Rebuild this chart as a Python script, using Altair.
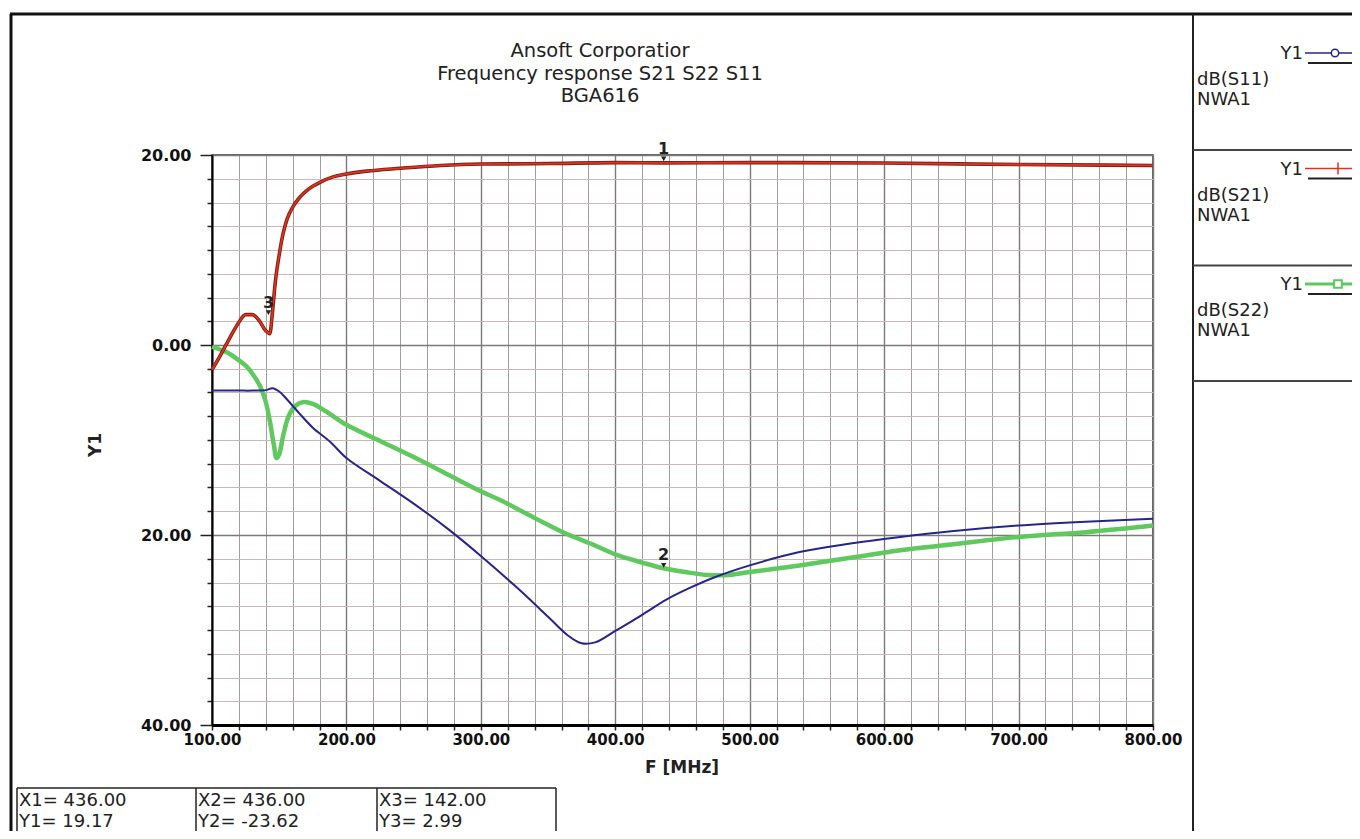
import altair as alt
import pandas as pd

# ---------------- data ----------------
s21_f = [100, 105, 110, 115, 120, 125, 130, 135, 140, 143, 145, 147, 150, 153, 156, 160, 165, 170, 175, 180,
         190, 200, 215, 240, 270, 300, 350, 400, 436, 500, 600, 700, 800]
s21_db = [-2.6, -1.4, -0.1, 1.2, 2.4, 3.2, 3.2, 2.6, 1.5, 1.2, 3.5, 6.5, 9.5, 11.8, 13.3, 14.5, 15.5, 16.2, 16.7, 17.1,
          17.7, 18.0, 18.3, 18.6, 18.9, 19.05, 19.1, 19.2, 19.17, 19.2, 19.15, 19.0, 18.9]

s11_f = [100, 110, 120, 130, 140, 145, 150, 155, 160, 165, 175, 188, 200, 225, 250, 275, 300, 325, 350, 365,
         375, 385, 400, 420, 438, 455, 473, 500, 537, 575, 612, 650, 700, 750, 800]
s11_db = [-4.8, -4.8, -4.8, -4.8, -4.75, -4.55, -4.9, -5.6, -6.4, -7.2, -8.7, -10.2, -11.9, -14.3, -16.7, -19.3, -22.2, -25.3, -28.6, -30.6,
          -31.4, -31.3, -30.1, -28.4, -26.8, -25.6, -24.5, -23.2, -21.8, -20.9, -20.2, -19.6, -19.0, -18.6, -18.3]

s22_f = [100, 110, 118, 126, 131, 136, 140, 143, 146, 148, 150, 153, 157, 162, 168, 175, 185, 200, 225, 250,
         275, 300, 314, 340, 364, 385, 401, 420, 436, 452, 468, 485, 500, 537, 575, 612, 650, 701, 750, 800]
s22_db = [-0.2, -0.7, -1.4, -2.3, -3.2, -4.4, -6.0, -8.0, -10.5, -11.9, -11.5, -9.5, -7.5, -6.4, -6.0, -6.2, -7.0, -8.4, -10.1, -11.8,
          -13.6, -15.4, -16.3, -18.2, -19.9, -21.1, -22.1, -22.9, -23.5, -23.9, -24.2, -24.2, -23.9, -23.2, -22.4, -21.6, -21.0, -20.2, -19.7, -19.0]

marker_f = [436, 436, 142]
marker_db = [19.17, -23.62, 2.99]
marker_label = ["1", "2", "3"]

x_ticks = list(range(100, 801, 20))
y_ticks = [-40 + 2.5 * i for i in range(25)]

title_lines = ["Ansoft Corporatior", "Frequency response S21 S22 S11", "BGA616"]
legend_names = ["dB(S11)", "dB(S21)", "dB(S22)"]
legend_source = "NWA1"
legend_axis = "Y1"

# ---------------- styles ----------------
RED_DARK = "#7a1f14"
RED = "#e0321e"
NAVY = "#26268a"
GREEN = "#5fc95f"
FONT = "DejaVu Sans"

W, H = 941, 570

df21 = pd.DataFrame({"f": s21_f, "db": s21_db})
df11 = pd.DataFrame({"f": s11_f, "db": s11_db})
df22 = pd.DataFrame({"f": s22_f, "db": s22_db})
dfm = pd.DataFrame({"f": marker_f, "db": marker_db, "label": marker_label})
dummy = alt.Data(values=[{"a": 1}])

xaxis = alt.Axis(
    values=x_ticks,
    labelExpr="datum.value % 100 === 0 ? format(datum.value, '.2f') : ''",
    labelFont=FONT, labelFontWeight="bold", labelFontSize=15, labelColor="#111",
    labelPadding=2, labelOverlap=False, labelFlush=False,
    tickSize=5, tickColor="#222", tickWidth=1.5,
    domainColor="#000", domainWidth=3,
    grid=True,
    gridColor={"condition": {"test": "datum.value % 100 === 0", "value": "#7a7a7a"}, "value": "#a69c9c"},
    gridWidth={"condition": {"test": "datum.value % 100 === 0", "value": 1.4}, "value": 1},
    title=None,
)
yaxis = alt.Axis(
    values=y_ticks,
    labelExpr="datum.value % 20 === 0 ? format(abs(datum.value), '.2f') : ''",
    labelFont=FONT, labelFontWeight="bold", labelFontSize=16, labelColor="#111",
    labelPadding=9, labelOverlap=False, labelFlush=False,
    tickSize={"condition": {"test": "datum.value % 20 === 0", "value": 12}, "value": 5},
    tickColor="#222", tickWidth=1.5,
    domainColor="#000", domainWidth=2,
    grid=True,
    gridColor={"condition": {"test": "datum.value % 20 === 0", "value": "#7a7a7a"}, "value": "#c8b8b8"},
    gridWidth={"condition": {"test": "datum.value % 20 === 0", "value": 1.4}, "value": 1},
    title=None,
)
xs = alt.Scale(domain=[100, 800], nice=False, zero=False)
ys = alt.Scale(domain=[-40, 20], nice=False, zero=False)


def enc(ch):
    return ch.encode(x=alt.X("f:Q", scale=xs, axis=xaxis), y=alt.Y("db:Q", scale=ys, axis=yaxis))


layers = []
layers.append(enc(alt.Chart(df22).mark_line(color=GREEN, strokeWidth=4.5, interpolate="catmull-rom")))
layers.append(enc(alt.Chart(df11).mark_line(color=NAVY, strokeWidth=2, interpolate="catmull-rom")))
layers.append(enc(alt.Chart(df21).mark_line(color=RED_DARK, strokeWidth=3.6, interpolate="monotone")))
layers.append(enc(alt.Chart(df21).mark_line(color=RED, strokeWidth=1.8, interpolate="monotone")))

# markers
layers.append(enc(alt.Chart(dfm).mark_point(shape="triangle-down", size=28, filled=True, color="#222",
                                            opacity=1, yOffset=-4)))
layers.append(enc(alt.Chart(dfm).mark_text(font=FONT, fontSize=16, fontWeight="bold",
                                           color="#222", baseline="alphabetic", yOffset=-9)).encode(text="label:N"))


def rule(x1, x2, y1, y2, color="#111", width=2.0):
    return alt.Chart(dummy).mark_rule(color=color, strokeWidth=width).encode(
        x=alt.value(x1), x2=alt.value(x2), y=alt.value(y1), y2=alt.value(y2))


def text(t, x, y, size=18, weight="normal", align="left", baseline="alphabetic", angle=0, font=FONT, color="#222"):
    kw = dict(text=t, font=font, fontSize=size, fontWeight=weight, align=align, baseline=baseline, color=color)
    if angle:
        kw["angle"] = angle
    return alt.Chart(dummy).mark_text(**kw).encode(x=alt.value(x), y=alt.value(y))


# title
for t, yy in zip(title_lines, [-98, -75, -53]):
    layers.append(text(t, 388, yy, size=19.5, align="center"))

# axis titles
layers.append(text("Y1", -116, 290, size=17, weight="bold", align="center", baseline="middle", angle=270))
layers.append(text("F [MHz]", 470, 613, size=17, weight="bold", align="center", baseline="middle"))

# outer frame
layers.append(rule(-202, 1140, -141, -141, "#111", 3))
layers.append(rule(-201, -201, -141, 676, "#111", 3))
layers.append(rule(981, 981, -141, 676, "#222", 2))

# legend panel
sym_colors = [NAVY, RED, GREEN]
sym_widths = [1.5, 1.5, 3]
for i, name in enumerate(legend_names):
    r = i * 115.5
    layers.append(rule(981, 1140, -5 + r, -5 + r, "#444", 2))
    layers.append(text(legend_axis, 1091, -96 + r, size=18, align="right"))
    layers.append(text(name, 985, -70 + r, size=18))
    layers.append(text(legend_source, 985, -50 + r, size=18))
    layers.append(rule(1093, 1140, -102 + r, -102 + r, sym_colors[i], sym_widths[i]))
    layers.append(rule(1096, 1140, -92 + r, -92 + r, "#222", 2))
    if i == 0:
        layers.append(alt.Chart(dummy).mark_point(shape="circle", filled=True, fill="white", stroke=NAVY,
                                                  strokeWidth=1.5, size=55, opacity=1).encode(
            x=alt.value(1123), y=alt.value(-102 + r)))
    elif i == 1:
        layers.append(rule(1126, 1126, -108 + r, -96 + r, RED, 1.5))
    else:
        layers.append(alt.Chart(dummy).mark_point(shape="square", filled=True, fill="white", stroke=GREEN,
                                                  strokeWidth=2, size=60, opacity=1).encode(
            x=alt.value(1126), y=alt.value(-102 + r)))

# marker table
layers.append(rule(-195, 344, 633, 633, "#222", 1.5))
for xx in [-195, -16, 165, 344]:
    layers.append(rule(xx, xx, 633, 690, "#222", 1.5))
for i in range(3):
    x0 = [-193, -14, 167][i]
    layers.append(text(f"X{i + 1}= {marker_f[i]:.2f}", x0, 651, size=18))
    layers.append(text(f"Y{i + 1}= {marker_db[i]:.2f}", x0, 672, size=18))

chart = alt.layer(*layers).properties(
    width=W, height=H,
    autosize=alt.AutoSizeParams(type="none"),
    padding={"left": 204, "top": 147, "right": 199, "bottom": 106},
    background="white",
).configure_view(stroke="#333", strokeWidth=1.5)

chart.save("out.html", embed_options={"renderer": "svg", "actions": False})
